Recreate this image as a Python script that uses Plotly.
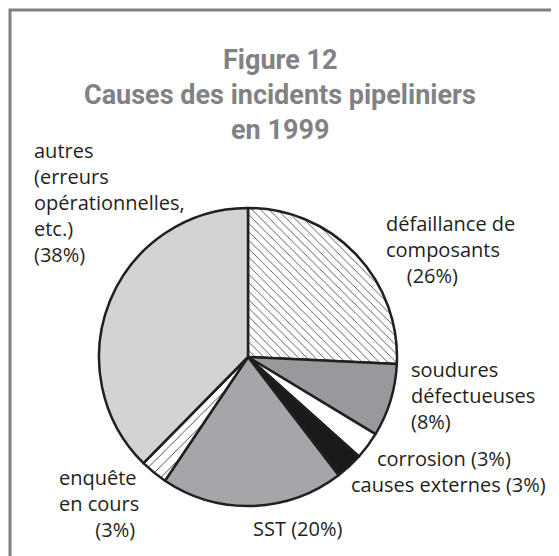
import plotly.graph_objects as go

W, H = 559, 556
OFF = 8  # the page body adds an 8px margin

# data
causes = [
    "défaillance de composants",
    "soudures défectueuses",
    "corrosion",
    "causes externes",
    "SST",
    "enquête en cours",
    "autres (erreurs opérationnelles, etc.)",
]
percent = [26, 8, 3, 3, 20, 3, 38]
title_lines = ["Figure 12", "Causes des incidents pipeliniers", "en 1999"]

# slice labels, one entry per text block (lines joined with <br>)
label_text = [
    ["défaillance de", "composants", "&nbsp;&nbsp;&nbsp;&nbsp;(26%)"],
    ["soudures", "défectueuses", "(8%)"],
    ["&nbsp;&nbsp;&nbsp;&nbsp;&nbsp;corrosion (3%)", "causes externes (3%)"],
    ["SST (20%)"],
    ["enquête", "en cours", "&nbsp;&nbsp;&nbsp;&nbsp;&nbsp;&nbsp;&nbsp;(3%)"],
    ["autres", "(erreurs", "opérationnelles,", "etc.)", "(38%)"],
]

# left edge and vertical centre of each block (pixels from window top-left)
label_pos = [(384, 250), (409, 395), (349, 471), (251, 528), (57, 503), (32, 202)]

fills = ["white", "#97999c", "white", "#1a1a1a", "#a4a6a9", "white", "#d1d3d4"]
patterns = [
    dict(shape="\\", fgcolor="#231f20", bgcolor="white", size=6, solidity=0.12),
    dict(shape=""),
    dict(shape=""),
    dict(shape=""),
    dict(shape=""),
    dict(shape="/", fgcolor="#231f20", bgcolor="white", size=8, solidity=0.1),
    dict(shape=""),
]


def px(x, y):
    return (x - OFF) / W, 1 - (y - OFF) / H


cx, cy, r = 248 - OFF, 357 - OFF, 149
fig = go.Figure(go.Pie(
    labels=causes,
    values=percent,
    sort=False,
    direction="clockwise",
    rotation=0,
    textinfo="none",
    hoverinfo="label+percent",
    marker=dict(
        colors=fills,
        line=dict(color="#231f20", width=2.5),
        pattern=dict(
            shape=[p["shape"] for p in patterns],
            fgcolor=[p.get("fgcolor", "#231f20") for p in patterns],
            bgcolor=[p.get("bgcolor", c) for p, c in zip(patterns, fills)],
            size=[p.get("size", 8) for p in patterns],
            solidity=[p.get("solidity", 0.2) for p in patterns],
        ),
    ),
    domain=dict(x=[(cx - r) / W, (cx + r) / W], y=[1 - (cy + r) / H, 1 - (cy - r) / H]),
    showlegend=False,
))

annotations = []
for i, line in enumerate(title_lines):
    x, y = px(280, 60 + i * 35)
    annotations.append(dict(
        text=f"<b>{line}</b>", x=x, y=y, xref="paper", yref="paper",
        xanchor="center", yanchor="middle", showarrow=False,
        font=dict(family="Roboto", size=27, color="#808285"),
    ))

for lines, (lx, ly) in zip(label_text, label_pos):
    x, y = px(lx, ly)
    annotations.append(dict(
        text="<br>".join(lines), x=x, y=y, xref="paper", yref="paper",
        xanchor="left", yanchor="middle", align="left", showarrow=False,
        font=dict(family="Open Sans", size=20, color="#231f20"),
    ))

fig.update_layout(
    width=W,
    height=H,
    margin=dict(l=0, r=0, t=0, b=0),
    paper_bgcolor="white",
    annotations=annotations,
    shapes=[dict(
        type="rect", xref="paper", yref="paper",
        x0=(10 - OFF) / W, x1=1.05, y0=-0.05, y1=1 - (10 - OFF) / H,
        line=dict(color="#808080", width=3),
    )],
)

fig.write_html("out.html")
